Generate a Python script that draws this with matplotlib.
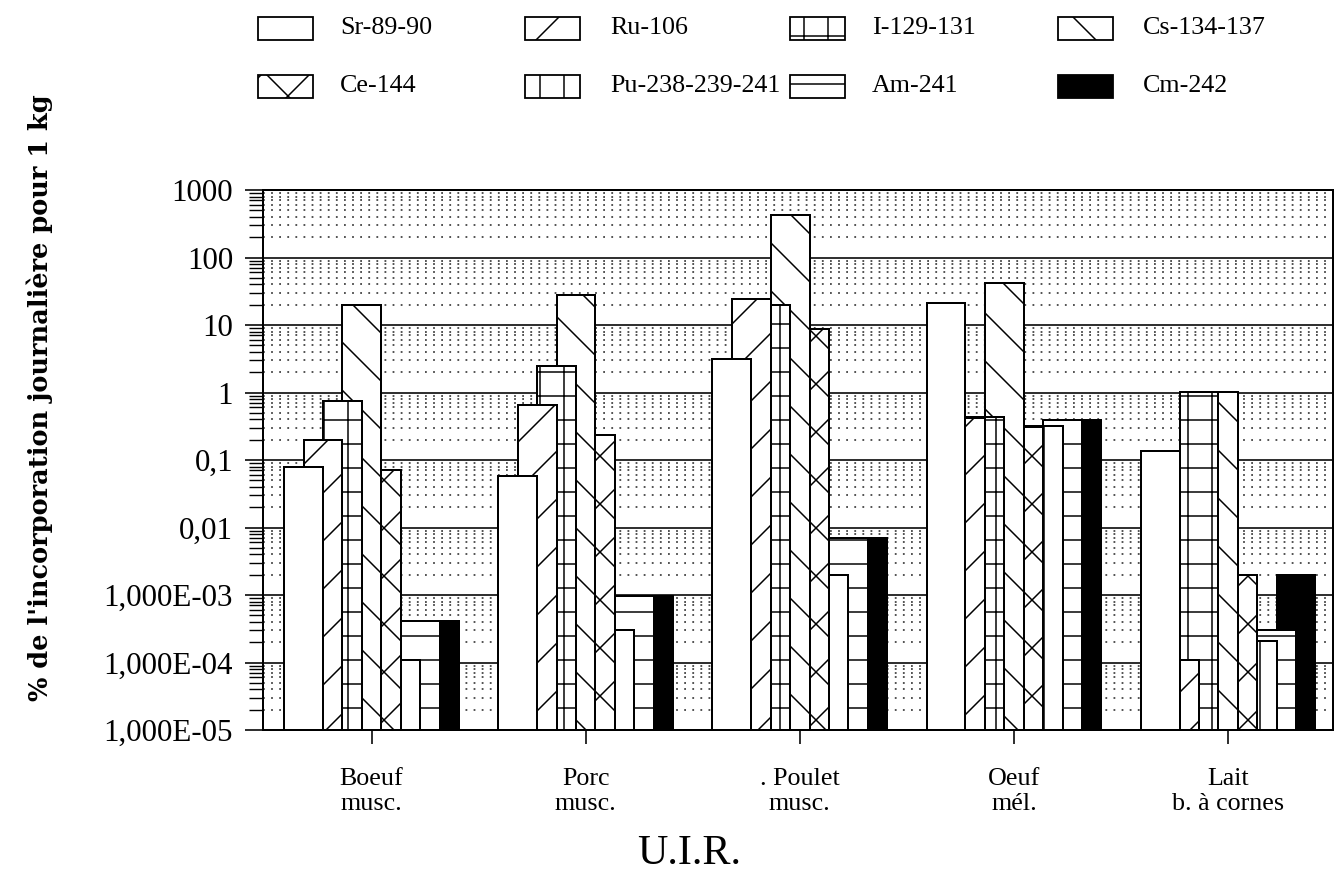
import numpy as np
import matplotlib
matplotlib.use("Agg")
import matplotlib.pyplot as plt
from matplotlib.patches import Rectangle

# produits (groupes) et radionucléides (séries)
categories = ["Boeuf\nmusc.", "Porc\nmusc.", ". Poulet\nmusc.", "Oeuf\nmél.", "Lait\nb. à cornes"]
series = ["Sr-89-90", "Ru-106", "I-129-131", "Cs-134-137",
          "Ce-144", "Pu-238-239-241", "Am-241", "Cm-242"]

# % de l'incorporation journalière pour 1 kg
sr_89_90 = [0.08, 0.058, 3.1, 21, 0.135]
ru_106 = [0.2, 0.65, 24, 0.42, 1.0e-4]
i_129_131 = [0.74, 2.5, 20, 0.43, 1.0]
cs_134_137 = [20, 28, 430, 42, 1.0]
ce_144 = [0.072, 0.235, 8.8, 0.31, 1.95e-3]
pu_238_239_241 = [1.0e-4, 2.9e-4, 2.0e-3, 0.32, 2.0e-4]
am_241 = [4.0e-4, 9.5e-4, 7.0e-3, 0.39, 2.9e-4]
cm_242 = [4.0e-4, 9.5e-4, 7.0e-3, 0.39, 2.0e-3]
values = [sr_89_90, ru_106, i_129_131, cs_134_137,
          ce_144, pu_238_239_241, am_241, cm_242]

yticks = [1e-5, 1e-4, 1e-3, 1e-2, 1e-1, 1, 10, 100, 1000]
ytick_labels = ["1,000E-05", "1,000E-04", "1,000E-03", "0,01", "0,1",
                "1", "10", "100", "1000"]

hatches = [None, "/", "+", "\\", "x", "|", "-", None]
faces = ["white"] * 7 + ["black"]

plt.rcParams["font.family"] = ["Liberation Serif", "DejaVu Serif"]
plt.rcParams["hatch.linewidth"] = 0.75
plt.rcParams["hatch.color"] = "black"

fig = plt.figure(figsize=(1335 / 144, 872 / 144), dpi=144)
ax = fig.add_axes([263 / 1335, 1 - 730 / 872, (1333 - 263) / 1335, 540 / 872])

x = np.arange(len(categories))
step = 0.0907
width = 2 * step
for i, (name, vals) in enumerate(zip(series, values)):
    off = (i - 3.5) * step
    ax.bar(x + off, vals, width=width, bottom=1e-5, color=faces[i],
           edgecolor="black", linewidth=1.0, hatch=hatches[i],
           zorder=20 - i, label=name)

ax.set_yscale("log")
ax.set_ylim(1e-5, 1000)
ax.set_xlim(-0.507, 4.49)
ax.set_yticks(yticks)
ax.set_yticklabels(ytick_labels)
ax.set_xticks(x)
ax.set_xticklabels(categories, fontsize=13, linespacing=1.2)

ax.set_axisbelow(True)
ax.grid(which="major", axis="y", color="black", linewidth=0.8)
ax.grid(which="minor", axis="y", color="#444444", linewidth=0.9,
        linestyle=(0, (1, 3.5)))
ax.tick_params(axis="y", which="major", length=9, width=0.8,
               labelsize=15.5, pad=6)
ax.tick_params(axis="y", which="minor", length=7, width=0.7)
ax.tick_params(axis="x", length=7, width=0.8, pad=12)
for s in ax.spines.values():
    s.set_linewidth(1.0)

fig.text(40 / 1335, 1 - 398 / 872, "% de l'incorporation journalière pour 1 kg",
         rotation=90, ha="center", va="center", fontsize=12.8,
         fontweight="bold", family="DejaVu Serif")
fig.text(689 / 1335, 1 - 854 / 872, "U.I.R.", ha="center", va="center",
         fontsize=21)

# légende faite à la main, 4 colonnes x 2 lignes
box_x = [258, 525, 790, 1058]
txt_x = [340, 610, 872, 1143]
row_y = [17, 75]
for i, name in enumerate(series):
    r, c = divmod(i, 4)
    y0 = 1 - (row_y[r] + 23) / 872
    fig.add_artist(Rectangle((box_x[c] / 1335, y0), 55 / 1335, 23 / 872,
                             transform=fig.transFigure, facecolor=faces[i],
                             edgecolor="black", linewidth=0.9,
                             hatch=hatches[i]))
    fig.text(txt_x[c] / 1335, 1 - (row_y[r] + 11.5) / 872, name,
             ha="left", va="center", fontsize=13)

fig.savefig("out.png", dpi=144)
